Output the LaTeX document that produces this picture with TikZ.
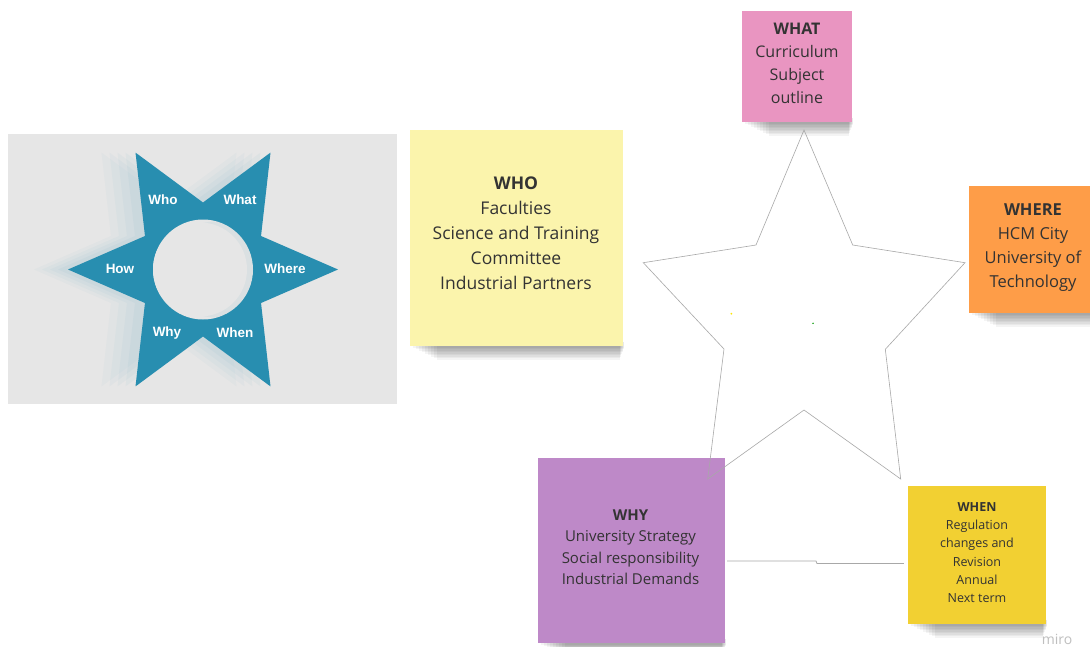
\documentclass[tikz,border=0pt]{standalone}
\usepackage{fontspec}
\setmainfont{Open Sans}
\newfontfamily\heros{Liberation Sans}
\usetikzlibrary{calc}
\definecolor{whatpink}{HTML}{E995C1}
\definecolor{whoyellow}{HTML}{FBF4AC}
\definecolor{whereorange}{HTML}{FE9D48}
\definecolor{whypurple}{HTML}{BE89C8}
\definecolor{whenyellow}{HTML}{F2D032}
\definecolor{teal6}{HTML}{288EB0}
\definecolor{panelgray}{HTML}{E6E6E6}
\definecolor{notetext}{HTML}{333333}
\definecolor{starline}{HTML}{A8A8A8}
\tikzset{
  notebox/.style={draw=none, inner sep=0pt},
  notetxt/.style={align=center, inner sep=0pt, text=notetext},
  hexlabel/.style={text=white, font=\heros\bfseries\fontsize{13.5}{15}\selectfont, inner sep=0pt},
  outline/.style={draw=starline, line width=0.6pt, line join=miter},
  conn/.style={draw=starline, line width=0.8pt},
  shadowband/.style={fill=black, fill opacity=0.045, draw=none}
}
\newcommand{\mynoteshadow}[3]{% x1, x2, ybottom
  \foreach \k in {1,...,9}{
    \fill[shadowband] (#1+3*\k,#3-4) rectangle (#2+2-\k*0.6,#3+\k*1.5);
  }
}
\begin{document}
\begin{tikzpicture}[x=1pt,y=-1pt]
\useasboundingbox (0,0) rectangle (1090,646);
\clip (0,0) rectangle (1090,646);
\fill[white] (0,0) rectangle (1090,646);

% ---------- left picture: six-pointed star ----------
\node[fill=panelgray, minimum width=389pt, minimum height=270pt, inner sep=0pt] (panel) at (202.5,269) {};
\coordinate (hc) at (203,269.5);
% faint ghost copies
\foreach \dx/\op in {-34/0.03,-26/0.035,-18/0.04,-10/0.045}{
  \fill[teal6, opacity=\op]
    ($(hc)+(\dx,0)+(0:135)$)
    \foreach \a in {0,60,...,300}{ -- ($(hc)+(\dx,0)+(\a:135)$) -- ($(hc)+(\dx,0)+(\a+30:67)$) } -- cycle;
}
\fill[teal6]
  ($(hc)+(0:135)$)
  \foreach \a in {0,60,...,300}{ -- ($(hc)+(\a:135)$) -- ($(hc)+(\a+30:67)$) } -- cycle;
\fill[panelgray] (hc) circle (50);
\fill[teal6, opacity=0.06] ($(hc)+(12,0)$) circle (48);
\fill[panelgray] ($(hc)+(-3,0)$) circle (47);
\node[hexlabel] (lwho) at (163,199.5) {Who};
\node[hexlabel] (lwhat) at (240,199.5) {What};
\node[hexlabel] (lhow) at (120,268.5) {How};
\node[hexlabel] (lwhere) at (285,268.5) {Where};
\node[hexlabel] (lwhy) at (167,333) {Why};
\node[hexlabel] (lwhen) at (235,333) {When};

% ---------- shadows ----------
\mynoteshadow{742}{852}{122}
\mynoteshadow{410}{623}{346}
\mynoteshadow{969}{1097}{313}
\mynoteshadow{538}{725}{643}
\mynoteshadow{908}{1046}{624}

% ---------- sticky notes ----------
\node[notebox, fill=whatpink, minimum width=110pt, minimum height=111pt] (what) at (797,66.5) {};
\node[notetxt, font=\fontsize{16}{23}\selectfont] (whatt) at ($(what)+(0,-3.5)$)
  {\textbf{WHAT}\\Curriculum\\Subject\\outline};
\node[notebox, fill=whoyellow, minimum width=213pt, minimum height=216pt] (who) at (516.5,238) {};
\node[notetxt, font=\fontsize{17.5}{25}\selectfont] (whot) at ($(who)+(-0.5,-4.5)$)
  {\textbf{WHO}\\Faculties\\Science and Training\\Committee\\Industrial Partners};
\node[notebox, fill=whereorange, minimum width=128pt, minimum height=127pt] (where) at (1033,249.5) {};
\node[notetxt, font=\fontsize{16.5}{24}\selectfont] (wheret) at ($(where)+(0,-1.5)$)
  {\textbf{WHERE}\\HCM City\\University of\\Technology};
\node[notebox, fill=whypurple, minimum width=187pt, minimum height=185pt] (why) at (631.5,550.5) {};
\node[notetxt, font=\fontsize{15}{21.5}\selectfont] (whyt) at ($(why)+(-1,-3.5)$)
  {\textbf{WHY}\\University Strategy\\Social responsibility\\Industrial Demands};
\node[notebox, fill=whenyellow, minimum width=138pt, minimum height=138pt] (when) at (977,555) {};
\node[notetxt, font=\fontsize{12.5}{18.3}\selectfont] (whent) at ($(when)+(0,-2.5)$)
  {\textbf{WHEN}\\Regulation\\changes and\\Revision\\Annual\\Next term};

% ---------- outline five-pointed star ----------
\coordinate (s1) at (804,130);
\coordinate (s2) at (852.7,245);
\coordinate (s3) at (965,262.7);
\coordinate (s4) at (885.3,349.3);
\coordinate (s5) at (900.7,479);
\coordinate (s6) at (804,410);
\coordinate (s7) at (707.7,479);
\coordinate (s8) at (724,349);
\coordinate (s9) at (643.3,262.7);
\coordinate (s10) at (756,245);
\draw[outline] (s1) -- (s2) -- (s3) -- (s4) -- (s5) -- (s6) -- (s7) -- (s8) -- (s9) -- (s10) -- cycle;
\fill[yellow!90!orange] (731.3,313.7) circle (1);
\fill[green!60!black] (813,323.3) circle (0.8);

% ---------- connector WHY -> WHEN ----------
\coordinate (bend1) at (816,561);
\coordinate (bend2) at (817,563.5);
\draw[conn] ($(why.east)+(2,10.5)$) -- (bend1) -- (bend2) -- ($(when.west)+(-4,8.5)$);

% ---------- watermark ----------
\node[text=black!25, font=\fontsize{14}{14}\selectfont, inner sep=0pt, anchor=base] (miro) at (1057,644.5) {miro};
\end{tikzpicture}
\end{document}
